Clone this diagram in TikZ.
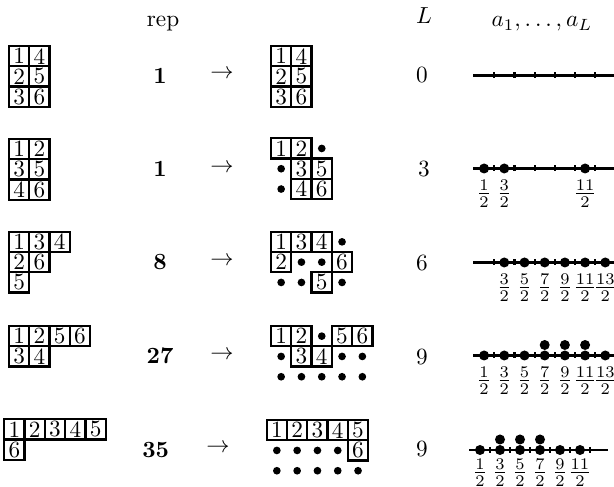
\documentclass[tikz,border=0pt]{standalone}
\usepackage{amsmath}
\newcommand\ytabcells[2]{\foreach \c/\r/\l in {#2} {\node[cell] (#1-\c-\r) at ({(\c-0.5)*20.3},{(\r-0.5)*20.3}) {\l};}}
\newcommand\ytabdots[2]{\foreach \c/\r in {#2} {\node[tdot] (#1-\c-\r) at ({(\c-0.5)*20.3},{(\r-0.5)*20.3}) {};}}
\begin{document}
\begin{tikzpicture}[x=0.43pt,y=-0.43pt,
  cell/.style={draw,line width=0.95pt,minimum size=8.73pt,inner sep=0pt},
  tdot/.style={circle,fill,inner sep=0pt,minimum size=3.3pt},
  ldot/.style={circle,fill,inner sep=0pt,minimum size=4.3pt},
  nl/.style={line width=0.95pt},
  tick/.style={line width=0.95pt},
  lab/.style={anchor=base,inner sep=0pt}]
\useasboundingbox (0,0) rectangle (614,487);
% headers
\node[lab] (hrep) at (163,26.5) {rep};
\node[lab] (hL) at (424,23.5) {$L$};
\node[lab] (ha) at (542,27) {$a_1,\dots,a_L$};
% left tableaux
\begin{scope}[shift={(9,46)}]
\ytabcells{A}{1/1/1,2/1/4,1/2/2,2/2/5,1/3/3,2/3/6}
\end{scope}
\begin{scope}[shift={(9,139)}]
\ytabcells{B}{1/1/1,2/1/2,1/2/3,2/2/5,1/3/4,2/3/6}
\end{scope}
\begin{scope}[shift={(9,231.7)}]
\ytabcells{C}{1/1/1,2/1/3,3/1/4,1/2/2,2/2/6,1/3/5}
\end{scope}
\begin{scope}[shift={(9,326)}]
\ytabcells{D}{1/1/1,2/1/2,3/1/5,4/1/6,1/2/3,2/2/4}
\end{scope}
\begin{scope}[shift={(4.3,419.3)}]
\ytabcells{E}{1/1/1,2/1/2,3/1/3,4/1/4,5/1/5,1/2/6}
\end{scope}
% rep numbers
\node (r1) at (160,76) {$\mathbf{1}$};
\node (r2) at (160,169.5) {$\mathbf{1}$};
\node (r3) at (160,262.5) {$\mathbf{8}$};
\node (r4) at (160,356.5) {$\mathbf{27}$};
\node (r5) at (155.7,450) {$\mathbf{35}$};
% arrows
\node (a1) at (222,74.5) {$\to$};
\node (a2) at (222,168) {$\to$};
\node (a3) at (222,261) {$\to$};
\node (a4) at (222,355) {$\to$};
\node (a5) at (218,448.5) {$\to$};
% middle tableaux
\begin{scope}[shift={(271,46)}]
\ytabcells{MA}{1/1/1,2/1/4,1/2/2,2/2/5,1/3/3,2/3/6}
\end{scope}
\begin{scope}[shift={(271,138.3)}]
\ytabcells{MB}{1/1/1,2/1/2,2/2/3,3/2/5,2/3/4,3/3/6}
\ytabdots{MB}{3/1,1/2,1/3}
\end{scope}
\begin{scope}[shift={(271,231.7)}]
\ytabcells{MC}{1/1/1,2/1/3,3/1/4,1/2/2,4/2/6,3/3/5}
\ytabdots{MC}{4/1,2/2,3/2,1/3,2/3,4/3}
\end{scope}
\begin{scope}[shift={(271,326)}]
\ytabcells{MD}{1/1/1,2/1/2,4/1/5,5/1/6,2/2/3,3/2/4}
\ytabdots{MD}{3/1,1/2,4/2,5/2,1/3,2/3,3/3,4/3,5/3}
\end{scope}
\begin{scope}[shift={(266.7,420)}]
\ytabcells{ME}{1/1/1,2/1/2,3/1/3,4/1/4,5/1/5,5/2/6}
\ytabdots{ME}{1/2,2/2,3/2,4/2,1/3,2/3,3/3,4/3,5/3}
\end{scope}
% L values
\node (L1) at (422,75) {0};
\node (L2) at (424,169) {3};
\node (L3) at (422,263) {6};
\node (L4) at (422,357) {9};
\node (L5) at (422,449.5) {9};
% number line 1
\coordinate (n1s) at (473,75.5); \coordinate (n1e) at (614,75.5);
\draw[nl] (n1s) -- (n1e);
\foreach \k in {1,...,6} \draw[tick] (474+20.2*\k,72.5) -- ++(0,6);
% number line 2
\coordinate (n2s) at (473,168.5); \coordinate (n2e) at (614,168.5);
\draw[nl] (n2s) -- (n2e);
\foreach \k in {1,...,6} \draw[tick] (474+20.2*\k,165.5) -- ++(0,6);
\foreach \n in {1,3,11} {
  \node[ldot] (p2-\n) at (474+10.1*\n,168.5) {};
  \node[lab] (f2-\n) at (474+10.1*\n,199.5) {$\frac{\n}{2}$};}
% number line 3
\coordinate (n3s) at (473,262.5); \coordinate (n3e) at (614,262.5);
\draw[nl] (n3s) -- (n3e);
\foreach \k in {1,...,6} \draw[tick] (474+20.2*\k,259.5) -- ++(0,6);
\foreach \n in {3,5,7,9,11,13} {
  \node[ldot] (p3-\n) at (474+10.1*\n,262.5) {};
  \node[lab] (f3-\n) at (474+10.1*\n,293.5) {$\frac{\n}{2}$};}
% number line 4
\coordinate (n4s) at (473,355.5); \coordinate (n4e) at (614,355.5);
\draw[nl] (n4s) -- (n4e);
\foreach \k in {1,...,6} \draw[tick] (474+20.2*\k,352.5) -- ++(0,6);
\foreach \n in {1,3,5,7,9,11,13} {
  \node[ldot] (p4-\n) at (474+10.1*\n,355.5) {};
  \node[lab] (f4-\n) at (474+10.1*\n,386.5) {$\frac{\n}{2}$};}
\foreach \n in {7,9,11} \node[ldot] (q4-\n) at (474+10.1*\n,345) {};
% number line 5
\coordinate (n5s) at (469,450); \coordinate (n5e) at (608,450);
\draw[nl] (n5s) -- (n5e);
\foreach \k in {1,...,6} \draw[tick] (470+20*\k,447) -- ++(0,6);
\foreach \n in {1,3,5,7,9,11} {
  \node[ldot] (p5-\n) at (470+10*\n,450) {};
  \node[lab] (f5-\n) at (470+10*\n,478.5) {$\frac{\n}{2}$};}
\foreach \n in {3,5,7} \node[ldot] (q5-\n) at (470+10*\n,439.5) {};
\end{tikzpicture}
\end{document}
